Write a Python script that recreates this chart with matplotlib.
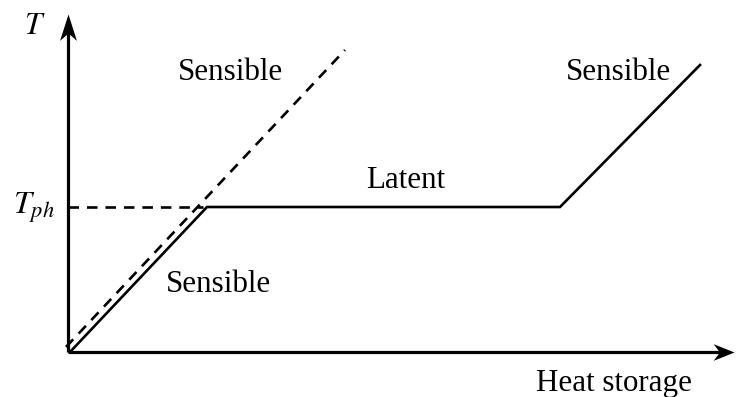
import matplotlib
matplotlib.use("Agg")
import matplotlib.pyplot as plt
from matplotlib.path import Path

plt.rcParams['font.family'] = ['Liberation Serif', 'DejaVu Serif']
plt.rcParams['mathtext.fontset'] = 'stix'

# schematic data (heat storage vs temperature)
solid_x = [2, 139, 492, 632]
solid_y = [0, 145, 145, 287]
sens_x = [-2, 277]
sens_y = [5, 302]
tph_x = [0, 135]
tph_y = [145, 145]
x_axis_end = 666
y_axis_end = 338

labels = [
    ("Sensible", 162, 280),
    ("Sensible", 550, 280),
    ("Latent", 338, 172),
    ("Sensible", 151, 67),
]

fig = plt.figure(figsize=(7.36, 3.97), dpi=100)
ax = fig.add_axes([0, 0, 1, 1])
ax.set_xlim(-68, 668)
ax.set_ylim(-45, 352)
ax.axis('off')

lw = 1.9
ax.plot(solid_x, solid_y, color='black', lw=lw, solid_joinstyle='miter')
ax.plot(sens_x, sens_y, color='black', lw=lw, dashes=(4, 3))
ax.plot(tph_x, tph_y, color='black', lw=lw, dashes=(4, 3))

# axes lines
alw = 2.3
ax.plot([0, x_axis_end - 12], [0, 0], color='black', lw=alw, solid_capstyle='butt')
ax.plot([0, 0], [0, y_axis_end - 16], color='black', lw=alw, solid_capstyle='butt')

# stealth arrowheads as markers
right = Path([(0, 0), (-1.0, 0.4), (-0.7, 0), (-1.0, -0.4), (0, 0)],
             [Path.MOVETO, Path.LINETO, Path.LINETO, Path.LINETO, Path.CLOSEPOLY])
up = Path([(0, 0), (0.32, -1.0), (0, -0.72), (-0.32, -1.0), (0, 0)],
          [Path.MOVETO, Path.LINETO, Path.LINETO, Path.LINETO, Path.CLOSEPOLY])
ax.plot([x_axis_end], [0], marker=right, markersize=30, color='black', mew=0)
ax.plot([0], [y_axis_end], marker=up, markersize=38, color='black', mew=0)

fs = 22.3
for txt, x, y in labels:
    ax.text(x, y, txt, fontsize=fs, ha='center', va='center')

ax.text(546, -31, "Heat storage", fontsize=fs, ha='center', va='center')
ax.text(-33, 326, "$T$", fontsize=fs, ha='center', va='center')
ax.text(-34, 144, "$T_{ph}$", fontsize=23, ha='center', va='center')

fig.savefig("out.png", dpi=100)
